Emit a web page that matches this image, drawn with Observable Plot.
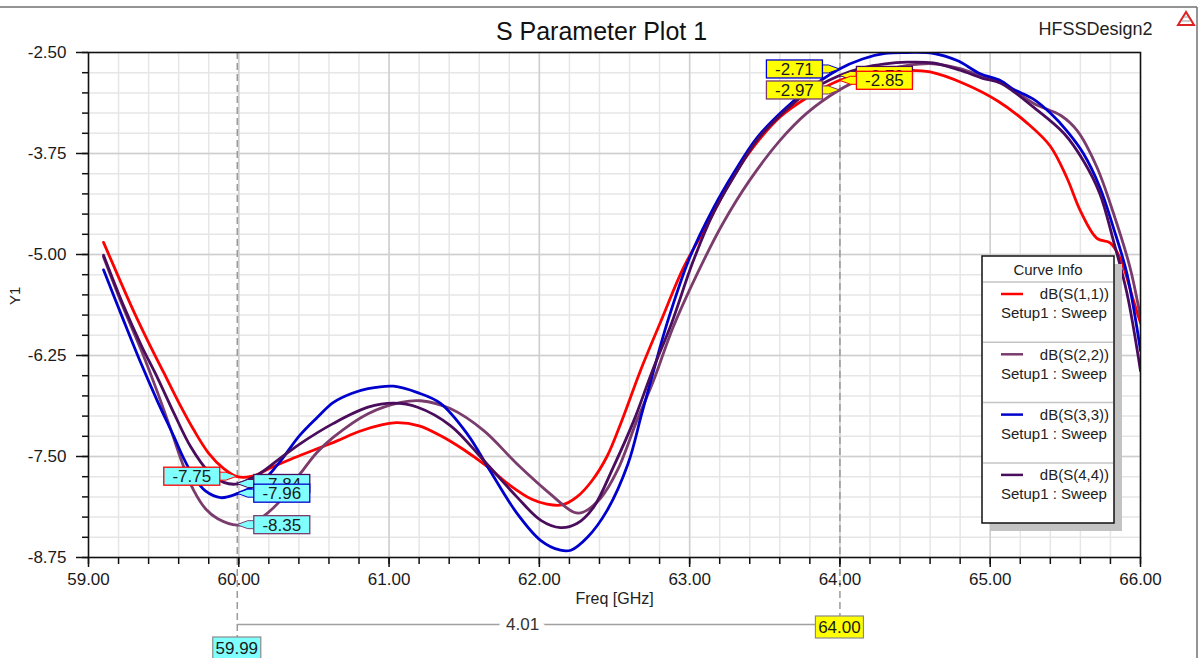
<!DOCTYPE html>
<html><head><meta charset="utf-8">
<script src="https://cdn.jsdelivr.net/npm/d3@7"></script>
<script src="https://cdn.jsdelivr.net/npm/@observablehq/plot@0.6"></script>
<style>
html,body{margin:0;padding:0;background:#fff;overflow:hidden;}
#chart svg{display:block;}
</style></head><body><div id="chart"></div>
<script>
// ---------------- data ----------------
const chartTitle = "S Parameter Plot 1";
const designName = "HFSSDesign2";
const xLabel = "Freq [GHz]";
const yLabel = "Y1";
const legendTitle = "Curve Info";
const setupLabel = "Setup1 : Sweep";
const seriesNames = ["dB(S(1,1))", "dB(S(2,2))", "dB(S(3,3))", "dB(S(4,4))"];
const seriesColors = ["#ff0000", "#7a3c6c", "#0000cc", "#4a0c5c"];

const xTicks = [59, 60, 61, 62, 63, 64, 65, 66];
const xTickLabels = ["59.00", "60.00", "61.00", "62.00", "63.00", "64.00", "65.00", "66.00"];
const yTicks = [-8.75, -7.5, -6.25, -5, -3.75, -2.5];
const yTickLabels = ["-8.75", "-7.50", "-6.25", "-5.00", "-3.75", "-2.50"];

const s11Freq = [59.10,59.20,59.30,59.40,59.50,59.60,59.70,59.80,59.90,59.99,60.10,60.20,60.35,60.50,60.65,60.80,60.95,61.05,61.20,61.35,61.50,61.65,61.80,61.95,62.05,62.15,62.25,62.35,62.45,62.55,62.67,62.81,62.96,63.12,63.27,63.42,63.60,63.78,63.99,64.15,64.30,64.45,64.60,64.82,65.05,65.25,65.40,65.51,65.60,65.71,65.80,65.87,65.95,66.00];
const s11Db   = [-4.85,-5.28,-5.70,-6.09,-6.46,-6.83,-7.17,-7.46,-7.65,-7.75,-7.74,-7.65,-7.53,-7.42,-7.31,-7.19,-7.11,-7.08,-7.12,-7.25,-7.42,-7.62,-7.85,-8.03,-8.09,-8.10,-8.00,-7.80,-7.50,-7.05,-6.45,-5.82,-5.16,-4.62,-4.10,-3.68,-3.30,-3.06,-2.85,-2.77,-2.73,-2.72,-2.74,-2.88,-3.10,-3.38,-3.66,-4.05,-4.46,-4.80,-4.86,-5.07,-5.55,-5.85];

const s22Freq = [59.10,59.23,59.35,59.45,59.55,59.62,59.70,59.78,59.86,59.99,60.12,60.26,60.41,60.52,60.63,60.86,61.08,61.21,61.41,61.63,61.85,62.07,62.23,62.29,62.41,62.52,62.65,62.76,62.89,63.05,63.22,63.40,63.60,63.78,63.99,64.15,64.30,64.45,64.62,64.80,64.95,65.07,65.29,65.47,65.58,65.71,65.82,65.93,66.00];
const s22Db   = [-5.03,-5.65,-6.18,-6.66,-7.18,-7.56,-7.92,-8.15,-8.27,-8.35,-8.29,-8.08,-7.71,-7.45,-7.26,-6.97,-6.83,-6.81,-6.91,-7.18,-7.59,-7.96,-8.19,-8.19,-8.01,-7.67,-7.05,-6.56,-5.90,-5.24,-4.62,-4.08,-3.59,-3.25,-2.97,-2.82,-2.72,-2.66,-2.64,-2.70,-2.80,-2.87,-3.13,-3.28,-3.47,-3.92,-4.49,-5.16,-5.78];

const s33Freq = [59.10,59.23,59.35,59.46,59.57,59.63,59.70,59.78,59.88,59.99,60.16,60.28,60.40,60.52,60.63,60.75,60.86,61.03,61.19,61.34,61.52,61.67,61.85,62.01,62.14,62.21,62.32,62.45,62.59,62.68,62.76,62.85,63.00,63.16,63.29,63.45,63.62,63.78,63.99,64.15,64.30,64.45,64.62,64.78,64.93,65.07,65.15,65.29,65.40,65.51,65.62,65.73,65.82,65.91,66.00];
const s33Db   = [-5.19,-5.80,-6.35,-6.82,-7.26,-7.51,-7.75,-7.93,-8.01,-7.96,-7.80,-7.55,-7.25,-7.02,-6.83,-6.72,-6.66,-6.63,-6.71,-6.84,-7.22,-7.67,-8.20,-8.54,-8.66,-8.66,-8.50,-8.17,-7.59,-6.98,-6.44,-5.85,-5.04,-4.42,-4.00,-3.55,-3.22,-2.97,-2.71,-2.58,-2.51,-2.50,-2.51,-2.60,-2.76,-2.85,-2.95,-3.08,-3.25,-3.47,-3.75,-4.17,-4.67,-5.24,-6.19];

const s44Freq = [59.10,59.23,59.35,59.46,59.57,59.68,59.80,59.90,59.99,60.14,60.27,60.41,60.63,60.86,61.03,61.19,61.41,61.63,61.85,62.01,62.14,62.25,62.36,62.49,62.63,62.75,62.88,63.02,63.16,63.30,63.45,63.62,63.78,63.99,64.15,64.30,64.45,64.62,64.80,64.95,65.07,65.29,65.49,65.62,65.73,65.82,65.91,66.00];
const s44Db   = [-5.01,-5.62,-6.12,-6.53,-6.97,-7.38,-7.69,-7.82,-7.84,-7.71,-7.53,-7.34,-7.09,-6.89,-6.84,-6.89,-7.12,-7.55,-8.00,-8.29,-8.38,-8.33,-8.13,-7.64,-7.05,-6.45,-5.85,-5.10,-4.48,-4.02,-3.58,-3.25,-3.00,-2.79,-2.69,-2.64,-2.62,-2.63,-2.72,-2.82,-2.88,-3.18,-3.50,-3.84,-4.25,-4.83,-5.48,-6.44];

// marker readouts (m1 at 59.99 GHz, m2 at 64.00 GHz)
const markerFreqs = [59.99, 64.00];
const markerFreqLabels = ["59.99", "64.00"];
const markerS11 = [-7.75, -2.85];
const markerS22 = [-8.35, -2.97];
const markerS33 = [-7.96, -2.71];
const markerS44 = [-7.84, -2.79];
const markerS11Labels = ["-7.75", "-2.85"];
const markerS22Labels = ["-8.35", "-2.97"];
const markerS33Labels = ["-7.96", "-2.71"];
const markerS44Labels = ["-7.84", "-2.79"];
const deltaLabel = "4.01";

// ---------------- build tables ----------------
const seriesFreqs = [s11Freq, s22Freq, s33Freq, s44Freq];
const seriesDbs = [s11Db, s22Db, s33Db, s44Db];
const rows = [];
seriesNames.forEach((name, i) => seriesFreqs[i].forEach((f, j) => rows.push({series: name, f, v: seriesDbs[i][j]})));

const FONT = "'Liberation Sans', Arial, Helvetica, sans-serif";
const markerFills = ["#80ffff", "#ffff00"];
// draw order & side of each readout box (layout)
const calloutLayout = [
  {s: 3, vals: markerS44, labels: markerS44Labels, side: ["right", "right"]},
  {s: 0, vals: markerS11, labels: markerS11Labels, side: ["left", "right"]},
  {s: 1, vals: markerS22, labels: markerS22Labels, side: ["right", "left"]},
  {s: 2, vals: markerS33, labels: markerS33Labels, side: ["right", "left"]}
];
const callouts = [];
calloutLayout.forEach(c => markerFreqs.forEach((f, m) => callouts.push({
  f, v: c.vals[m], text: c.labels[m], side: c.side[m], stroke: seriesColors[c.s], fill: markerFills[m]
})));
const markerDrops = [80, 59];

const xMinor = d3.range(59, 66.001, 0.2).map(d => +d.toFixed(2));
const yMinor = d3.range(-8.75, -2.499, 0.25).map(d => +d.toFixed(2));

function calloutMark(items) {
  return (index, scales) => {
    const {x, y} = scales;
    const g = d3.create("svg:g").attr("font-family", FONT).attr("font-size", 17).attr("text-anchor", "middle");
    const w = 56, h = 18, gap = 17;
    for (const it of items) {
      const px = x(it.f), py = y(it.v);
      const left = it.side === "left";
      const bx = left ? px - gap - w : px + gap;
      const by = py - h / 2;
      const edge = left ? bx + w : bx;
      const e2 = edge + (left ? 6 : -6);
      g.append("path")
        .attr("d", `M${edge},${py - 4}L${e2},${py - 4}L${px},${py}L${e2},${py + 4}L${edge},${py + 4}`)
        .attr("fill", it.fill).attr("stroke", it.stroke).attr("stroke-width", 1);
      g.append("rect").attr("x", bx).attr("y", by).attr("width", w).attr("height", h)
        .attr("fill", it.fill).attr("stroke", it.stroke).attr("stroke-width", 1.3);
      g.append("text").attr("x", bx + w / 2).attr("y", by + h / 2).attr("dy", "0.36em")
        .attr("fill", "#1a1a1a").text(it.text);
    }
    return g.node();
  };
}

function freqBoxes(index, scales, values, dims) {
  const {x} = scales;
  const g = d3.create("svg:g").attr("font-family", FONT).attr("font-size", 17).attr("text-anchor", "middle");
  const bottom = dims.height - dims.marginBottom;
  markerFreqs.forEach((f, i) => {
    const px = x(f), top = bottom + markerDrops[i];
    g.append("rect").attr("x", px - 24).attr("y", top).attr("width", 48).attr("height", 22)
      .attr("fill", markerFills[i]).attr("stroke", "#8a8a8a").attr("stroke-width", 1.2);
    g.append("text").attr("x", px).attr("y", top + 11).attr("dy", "0.36em")
      .attr("fill", "#1a1a1a").text(markerFreqLabels[i]);
  });
  return g.node();
}

function legendMark(index, scales, values, dims) {
  const g = d3.create("svg:g").attr("font-family", FONT).attr("text-anchor", "start");
  const right = dims.width - dims.marginRight - 26;
  const w = 132, h = 267, left = right - w, top = dims.marginTop + 204;
  g.append("rect").attr("x", left + 8).attr("y", top + 8).attr("width", w).attr("height", h).attr("fill", "#c3c3c3");
  g.append("rect").attr("x", left).attr("y", top).attr("width", w).attr("height", h)
    .attr("fill", "#fff").attr("stroke", "#111").attr("stroke-width", 1.5);
  g.append("text").attr("x", left + w / 2).attr("y", top + 14).attr("dy", "0.36em")
    .attr("text-anchor", "middle").attr("font-size", 15).attr("fill", "#222").text(legendTitle);
  const rowH = 60.3, headH = 26;
  seriesNames.forEach((name, i) => {
    const y0 = top + headH + i * rowH;
    g.append("line").attr("x1", left + 1).attr("x2", left + w - 1).attr("y1", y0).attr("y2", y0)
      .attr("stroke", "#c4c4c4").attr("stroke-width", 1.5);
    g.append("line").attr("x1", left + 19).attr("x2", left + 41).attr("y1", y0 + 12).attr("y2", y0 + 12)
      .attr("stroke", seriesColors[i]).attr("stroke-width", 2.5);
    g.append("text").attr("x", left + w - 5).attr("y", y0 + 12).attr("dy", "0.36em")
      .attr("text-anchor", "end").attr("font-size", 15).attr("fill", "#222").text(name);
    g.append("text").attr("x", left + 19).attr("y", y0 + 31).attr("dy", "0.36em")
      .attr("text-anchor", "start").attr("font-size", 15).attr("fill", "#222").text(setupLabel);
  });
  return g.node();
}

function chrome(index, scales, values, dims) {
  const g = d3.create("svg:g");
  g.append("line").attr("x1", 0).attr("x2", dims.width - 2).attr("y1", 7).attr("y2", 7)
    .attr("stroke", "#707070").attr("stroke-width", 1.5);
  g.append("line").attr("x1", dims.width - 2).attr("x2", dims.width - 2).attr("y1", 7).attr("y2", dims.height)
    .attr("stroke", "#707070").attr("stroke-width", 1.5);
  // small product logo
  g.append("path").attr("d", "M1186,12L1178,25L1194,25Z").attr("fill", "none").attr("stroke", "#d22").attr("stroke-width", 2);
  g.append("path").attr("d", "M1182,21L1190,21M1184,17L1188,17").attr("stroke", "#999").attr("stroke-width", 1.2);
  return g.node();
}

const plot = Plot.plot({
  width: 1199, height: 658,
  marginLeft: 88, marginRight: 59, marginTop: 52, marginBottom: 101,
  x: {domain: [59, 66]},
  y: {domain: [-8.75, -2.5]},
  color: {domain: seriesNames, range: seriesColors},
  style: {fontFamily: FONT, fontSize: "17px", color: "#1a1a1a", background: "#fff"},
  marks: [
    chrome,
    Plot.gridX({ticks: xMinor, stroke: "#e6e6e6", strokeOpacity: 1, strokeWidth: 1.5}),
    Plot.gridY({ticks: yMinor, stroke: "#e6e6e6", strokeOpacity: 1, strokeWidth: 1.5}),
    Plot.gridX({ticks: xTicks, stroke: "#cfcfcf", strokeOpacity: 1, strokeWidth: 1.5}),
    Plot.gridY({ticks: yTicks, stroke: "#cfcfcf", strokeOpacity: 1, strokeWidth: 1.5}),
    Plot.ruleX([markerFreqs[0]], {stroke: "#9a9a9a", strokeWidth: 1.5, strokeDasharray: "7,4", insetBottom: -markerDrops[0]}),
    Plot.ruleX([markerFreqs[1]], {stroke: "#9a9a9a", strokeWidth: 1.5, strokeDasharray: "7,4", insetBottom: -markerDrops[1]}),
    Plot.ruleY([{a: markerFreqs[0], b: markerFreqs[1]}], {x1: "a", x2: "b", y: () => -8.75, dy: 67, stroke: "#a0a0a0", strokeWidth: 1.5}),
    Plot.text([deltaLabel], {x: () => (markerFreqs[0] + markerFreqs[1]) / 2, y: () => -8.75, dy: 67, dx: -16, text: d => d,
      fontSize: 17, fill: "#333", stroke: "#fff", strokeWidth: 14}),
    Plot.line(rows, {x: "f", y: "v", z: "series", stroke: "series", strokeWidth: 2.8, curve: "catmull-rom", clip: true}),
    Plot.frame({stroke: "#111", strokeWidth: 1.5}),
    Plot.axisY({ticks: yTicks, tickFormat: d => yTickLabels[yTicks.indexOf(d)], tickSize: 12, tickPadding: 10, label: null, stroke: "#111", strokeWidth: 1.5, fontSize: 17}),
    Plot.axisY({ticks: yMinor, tickFormat: () => "", tickSize: 6, label: null, stroke: "#111", strokeWidth: 1.5}),
    Plot.axisX({ticks: xTicks, tickFormat: d => xTickLabels[xTicks.indexOf(d)], tickSize: 10, tickPadding: 5, label: null, stroke: "#111", strokeWidth: 1.5, fontSize: 17}),
    Plot.axisX({ticks: xMinor, tickFormat: () => "", tickSize: 7, label: null, stroke: "#111", strokeWidth: 1.5}),
    Plot.text([chartTitle], {frameAnchor: "top", dx: -13, dy: -30, fontSize: 25, fill: "#111", text: d => d}),
    Plot.text([designName], {frameAnchor: "top-right", textAnchor: "end", dx: 12, dy: -30, fontSize: 18, fill: "#222", text: d => d}),
    Plot.text([yLabel], {frameAnchor: "left", rotate: -90, dx: -73, fontSize: 15, fill: "#222", text: d => d}),
    Plot.text([xLabel], {frameAnchor: "bottom", dy: 46, fontSize: 16, fill: "#222", text: d => d}),
    freqBoxes,
    calloutMark(callouts),
    legendMark
  ]
});
document.getElementById("chart").append(plot);
</script>
</body></html>
